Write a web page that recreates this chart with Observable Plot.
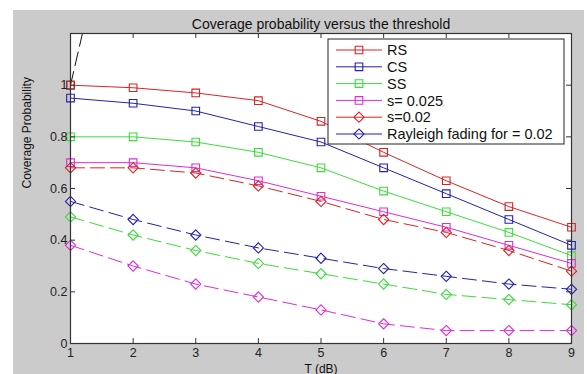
<!DOCTYPE html>
<html><head><meta charset="utf-8">
<script src="https://cdn.jsdelivr.net/npm/d3@7"></script>
<script src="https://cdn.jsdelivr.net/npm/@observablehq/plot@0.6"></script>
<style>
html,body{margin:0;padding:0;background:#fff;}
#wrap{position:relative;width:587px;height:374px;overflow:hidden;}
#bg{position:absolute;left:13px;top:10px;width:571px;height:364px;background:#cbcbcb;}
#chart{position:absolute;left:0;top:0;}
</style></head>
<body>
<div id="wrap"><div id="bg"></div><div id="chart"></div></div>
<script>
const T = [1,2,3,4,5,6,7,8,9];
const RS = [1.00,0.99,0.97,0.94,0.86,0.74,0.63,0.53,0.45];
const CS = [0.95,0.93,0.90,0.84,0.78,0.68,0.58,0.48,0.38];
const SS = [0.80,0.80,0.78,0.74,0.68,0.59,0.51,0.43,0.34];
const s025 = [0.70,0.70,0.68,0.63,0.57,0.51,0.45,0.38,0.31];
const s02 = [0.68,0.68,0.66,0.61,0.55,0.48,0.43,0.36,0.28];
const rayleigh = [0.55,0.48,0.42,0.37,0.33,0.29,0.26,0.23,0.21];
const greenDiam = [0.49,0.42,0.36,0.31,0.27,0.23,0.19,0.17,0.15];
const magentaDiam = [0.38,0.30,0.23,0.18,0.13,0.076,0.05,0.05,0.05];
const blackT = [1,2];
const blackY = [1.00,2.05];
const xTicks = [1,2,3,4,5,6,7,8,9];
const yTicks = [0,0.2,0.4,0.6,0.8,1];
const legendLabels = ["RS","CS","SS","s= 0.025","s=0.02","Rayleigh fading for = 0.02"];

const RED="#dc2222", BLUE="#2222b4", GREEN="#3cdc3c", MAG="#dc2cdc";
const series = [
  {name:"RS", y:RS, color:RED, symbol:"square", dash:null},
  {name:"CS", y:CS, color:BLUE, symbol:"square", dash:null},
  {name:"SS", y:SS, color:GREEN, symbol:"square", dash:null},
  {name:"s= 0.025", y:s025, color:MAG, symbol:"square", dash:null},
  {name:"s=0.02", y:s02, color:RED, symbol:"diamond2", dash:"14,6"},
  {name:"Rayleigh", y:rayleigh, color:BLUE, symbol:"diamond2", dash:"14,6"},
  {name:"gd", y:greenDiam, color:GREEN, symbol:"diamond2", dash:"14,6"},
  {name:"md", y:magentaDiam, color:MAG, symbol:"diamond2", dash:"14,6"}
];
const W=587,H=374,mL=70,mT=33,mR=16,mB=31;
const marks = [
  Plot.frame({fill:"white"}),
  Plot.line(blackT.map((t,i)=>({x:t,y:blackY[i]})),{x:"x",y:"y",stroke:"#111",strokeWidth:1,strokeDasharray:"14,6",clip:true}),
  Plot.dot([{x:blackT[0],y:blackY[0]}],{x:"x",y:"y",symbol:"square",r:4.3,stroke:"#111",strokeWidth:1.1,fill:"none"})
];
for (const s of series) {
  const data = T.map((t,i)=>({x:t,y:s.y[i]}));
  marks.push(Plot.line(data,{x:"x",y:"y",stroke:s.color,strokeWidth:1,strokeDasharray:s.dash||undefined}));
  marks.push(Plot.dot(data,{x:"x",y:"y",symbol:s.symbol,r:s.symbol==="square"?4.3:4.6,stroke:s.color,strokeWidth:1.1,fill:"none"}));
}
const ph = H-mT-mB, pw = W-mL-mR;
marks.push(
  Plot.tickX(xTicks,{x:d=>d,insetTop:ph-5,stroke:"#333"}),
  Plot.tickX(xTicks,{x:d=>d,insetBottom:ph-5,stroke:"#333"}),
  Plot.tickY(yTicks,{y:d=>d,insetRight:pw-5,stroke:"#333"}),
  Plot.tickY(yTicks,{y:d=>d,insetLeft:pw-5,stroke:"#333"}),
  Plot.frame({stroke:"#333",strokeWidth:1.2}),
  Plot.axisX(xTicks,{tickSize:0,tickPadding:5,fontSize:12.5,fill:"#222",tickFormat:d=>d,label:null}),
  Plot.axisY(yTicks,{tickSize:0,tickPadding:3,fontSize:12.5,fill:"#222",tickFormat:d=>d,label:null}),
  Plot.text(["Coverage probability versus the threshold"],{frameAnchor:"top",dy:-14,fontSize:14,fill:"#111"}),
  Plot.text(["T (dB)"],{frameAnchor:"bottom",dy:29,fontSize:12,fill:"#111"}),
  Plot.text(["Coverage Probability"],{frameAnchor:"left",dx:-43,rotate:-90,fontSize:12,fill:"#111"})
);
// legend
const legX0=328, legY0=39, legW=236, legH=105;
const legSeries = series.slice(0,6);
const legendSvg = ()=>{
  const g = d3.create("svg:g");
  g.append("rect").attr("x",legX0).attr("y",legY0).attr("width",legW).attr("height",legH)
    .attr("fill","white").attr("stroke","#222").attr("stroke-width",1);
  legSeries.forEach((s,i)=>{
    const yy = legY0+11+i*16.8;
    g.append("line").attr("x1",legX0+8).attr("x2",legX0+54).attr("y1",yy).attr("y2",yy)
      .attr("stroke",s.color).attr("stroke-width",1);
    const sym = s.symbol==="square"? d3.symbolSquare : d3.symbolDiamond2;
    const sz = s.symbol==="square"? 58 : 66;
    g.append("path").attr("d",d3.symbol(sym,sz)()).attr("transform",`translate(${legX0+31},${yy})`)
      .attr("fill","none").attr("stroke",s.color).attr("stroke-width",1.1);
    g.append("text").attr("x",legX0+59).attr("y",yy).attr("dy","0.36em")
      .attr("text-anchor","start").attr("font-size",14.5).attr("fill","#111").text(legendLabels[i]);
  });
  return g.node();
};
marks.push(legendSvg);

const plot = Plot.plot({
  width:W,height:H,marginLeft:mL,marginTop:mT,marginRight:mR,marginBottom:mB,
  style:{background:"transparent",fontFamily:"'Liberation Sans', Arial, sans-serif"},
  x:{domain:[1,9]},
  y:{domain:[0,1.2]},
  marks
});
document.getElementById("chart").appendChild(plot);
</script>
</body></html>
